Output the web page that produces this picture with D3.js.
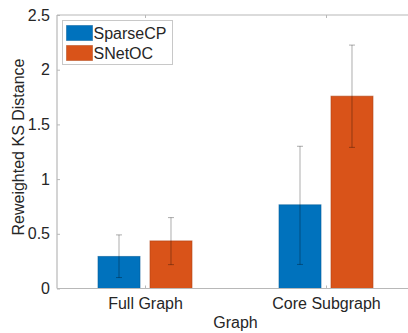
<!DOCTYPE html>
<html>
<head>
<meta charset="utf-8">
<script src="https://cdn.jsdelivr.net/npm/d3@7"></script>
<style>
  html, body { margin: 0; padding: 0; background: #fff; }
  svg { display: block; font-family: "Liberation Sans", Arial, Helvetica, sans-serif; }
</style>
</head>
<body>
<svg id="chart" width="408" height="333"></svg>
<script>
// Categories and series
const categories = ["Full Graph", "Core Subgraph"];
const seriesNames = ["SparseCP", "SNetOC"];
const seriesColors = ["#0072BD", "#D95319"];
// Mean values per series (one entry per category)
const sparseCPMean = [0.293, 0.765];
const snetocMean = [0.435, 1.758];
// Error bar extents (lower, upper) per series
const sparseCPLow = [0.10, 0.22];
const sparseCPHigh = [0.49, 1.30];
const snetocLow = [0.218, 1.29];
const snetocHigh = [0.648, 2.225];
const yTicks = [0, 0.5, 1, 1.5, 2, 2.5];
const yTickLabels = ["0", "0.5", "1", "1.5", "2", "2.5"];

const series = [
  { name: seriesNames[0], color: seriesColors[0], mean: sparseCPMean, lo: sparseCPLow, hi: sparseCPHigh },
  { name: seriesNames[1], color: seriesColors[1], mean: snetocMean, lo: snetocLow, hi: snetocHigh }
];

const svg = d3.select("#chart");
const W = 408, H = 333;
const plot = { left: 57, top: 15, right: 420, bottom: 288.5 };

// Category positions 1..n on a linear scale
const x = d3.scaleLinear().domain([1, 2]).range([145, 326]);
const y = d3.scaleLinear().domain([0, 2.5]).range([plot.bottom, plot.top]);

const barOffset = 0.1436; // group offset in category units
const barWidth = x(1.232) - x(1);

const axisColor = "#b8b8b8";
const textColor = "#262626";

// Bars
const g = svg.append("g");
series.forEach((s, si) => {
  const off = si === 0 ? -barOffset : barOffset;
  g.selectAll(null)
    .data(categories.map((c, i) => ({ i, v: s.mean[i] })))
    .enter().append("rect")
    .attr("x", d => x(d.i + 1 + off) - barWidth / 2)
    .attr("y", d => y(d.v))
    .attr("width", barWidth)
    .attr("height", d => y(0) - y(d.v))
    .attr("fill", s.color)
    .attr("stroke", d3.color(s.color).darker(0.6))
    .attr("stroke-opacity", 0.6)
    .attr("stroke-width", 1);
});

// Axis box lines (bottom, top, left)
svg.append("line").attr("x1", plot.left).attr("x2", W).attr("y1", plot.bottom).attr("y2", plot.bottom)
  .attr("stroke", axisColor).attr("stroke-width", 1.2);
svg.append("line").attr("x1", plot.left).attr("x2", W).attr("y1", plot.top).attr("y2", plot.top)
  .attr("stroke", axisColor).attr("stroke-width", 1.2);
svg.append("line").attr("x1", plot.left).attr("x2", plot.left).attr("y1", plot.top).attr("y2", plot.bottom)
  .attr("stroke", axisColor).attr("stroke-width", 1.2);

// Y axis with inward ticks
const yAxis = d3.axisLeft(y).tickValues(yTicks).tickFormat((d, i) => yTickLabels[i])
  .tickSizeInner(-3).tickSizeOuter(0).tickPadding(7);
const yg = svg.append("g").attr("transform", `translate(${plot.left},0)`).call(yAxis);
yg.select(".domain").remove();
yg.selectAll(".tick line").attr("stroke", axisColor);
yg.selectAll(".tick text").attr("fill", textColor).style("font-size", "16px")
  .style("font-family", "'Liberation Sans', Arial, sans-serif");

// X axis with inward ticks at bottom
const xAxis = d3.axisBottom(x).tickValues([1, 2]).tickFormat((d, i) => categories[i])
  .tickSizeInner(-3).tickSizeOuter(0).tickPadding(9.5);
const xg = svg.append("g").attr("transform", `translate(0,${plot.bottom})`).call(xAxis);
xg.select(".domain").remove();
xg.selectAll(".tick line").attr("stroke", axisColor);
xg.selectAll(".tick text").attr("fill", textColor).style("font-size", "16px")
  .style("font-family", "'Liberation Sans', Arial, sans-serif");

// Top axis ticks (mirrored box)
const xTop = d3.axisTop(x).tickValues([1, 2]).tickFormat("").tickSizeInner(-3).tickSizeOuter(0);
const xtg = svg.append("g").attr("transform", `translate(0,${plot.top})`).call(xTop);
xtg.select(".domain").remove();
xtg.selectAll(".tick line").attr("stroke", axisColor);

// Error bars
const capHalf = 3;
series.forEach((s, si) => {
  const off = si === 0 ? -barOffset : barOffset;
  categories.forEach((c, i) => {
    const cx = x(i + 1 + off);
    const eg = svg.append("g").attr("stroke", "#000").attr("stroke-opacity", 0.32).attr("stroke-width", 1);
    eg.append("line").attr("x1", cx).attr("x2", cx).attr("y1", y(s.lo[i])).attr("y2", y(s.hi[i]));
    eg.append("line").attr("x1", cx - capHalf).attr("x2", cx + capHalf).attr("y1", y(s.lo[i])).attr("y2", y(s.lo[i]));
    eg.append("line").attr("x1", cx - capHalf).attr("x2", cx + capHalf).attr("y1", y(s.hi[i])).attr("y2", y(s.hi[i]));
  });
});

// Axis titles
svg.append("text").attr("x", 235.5).attr("y", 328).attr("text-anchor", "middle")
  .attr("fill", textColor).style("font-size", "16px").text("Graph");
svg.append("text").attr("transform", "translate(24,147) rotate(-90)")
  .attr("text-anchor", "middle").attr("fill", textColor).style("font-size", "16px")
  .text("Reweighted KS Distance");

// Legend
const lg = svg.append("g").attr("transform", "translate(62.5,20.5)");
lg.append("rect").attr("width", 110).attr("height", 44).attr("fill", "#fff")
  .attr("stroke", "#c8c8c8").attr("stroke-width", 1);
series.forEach((s, si) => {
  const row = lg.append("g").attr("transform", `translate(0,${5 + si * 20})`);
  row.append("rect").attr("x", 4).attr("y", 0).attr("width", 26).attr("height", 15)
    .attr("fill", s.color).attr("stroke", d3.color(s.color).darker(0.6)).attr("stroke-opacity", 0.5);
  row.append("text").attr("x", 31).attr("y", 13).attr("fill", textColor)
    .style("font-size", "16px").text(s.name);
});
</script>
</body>
</html>
